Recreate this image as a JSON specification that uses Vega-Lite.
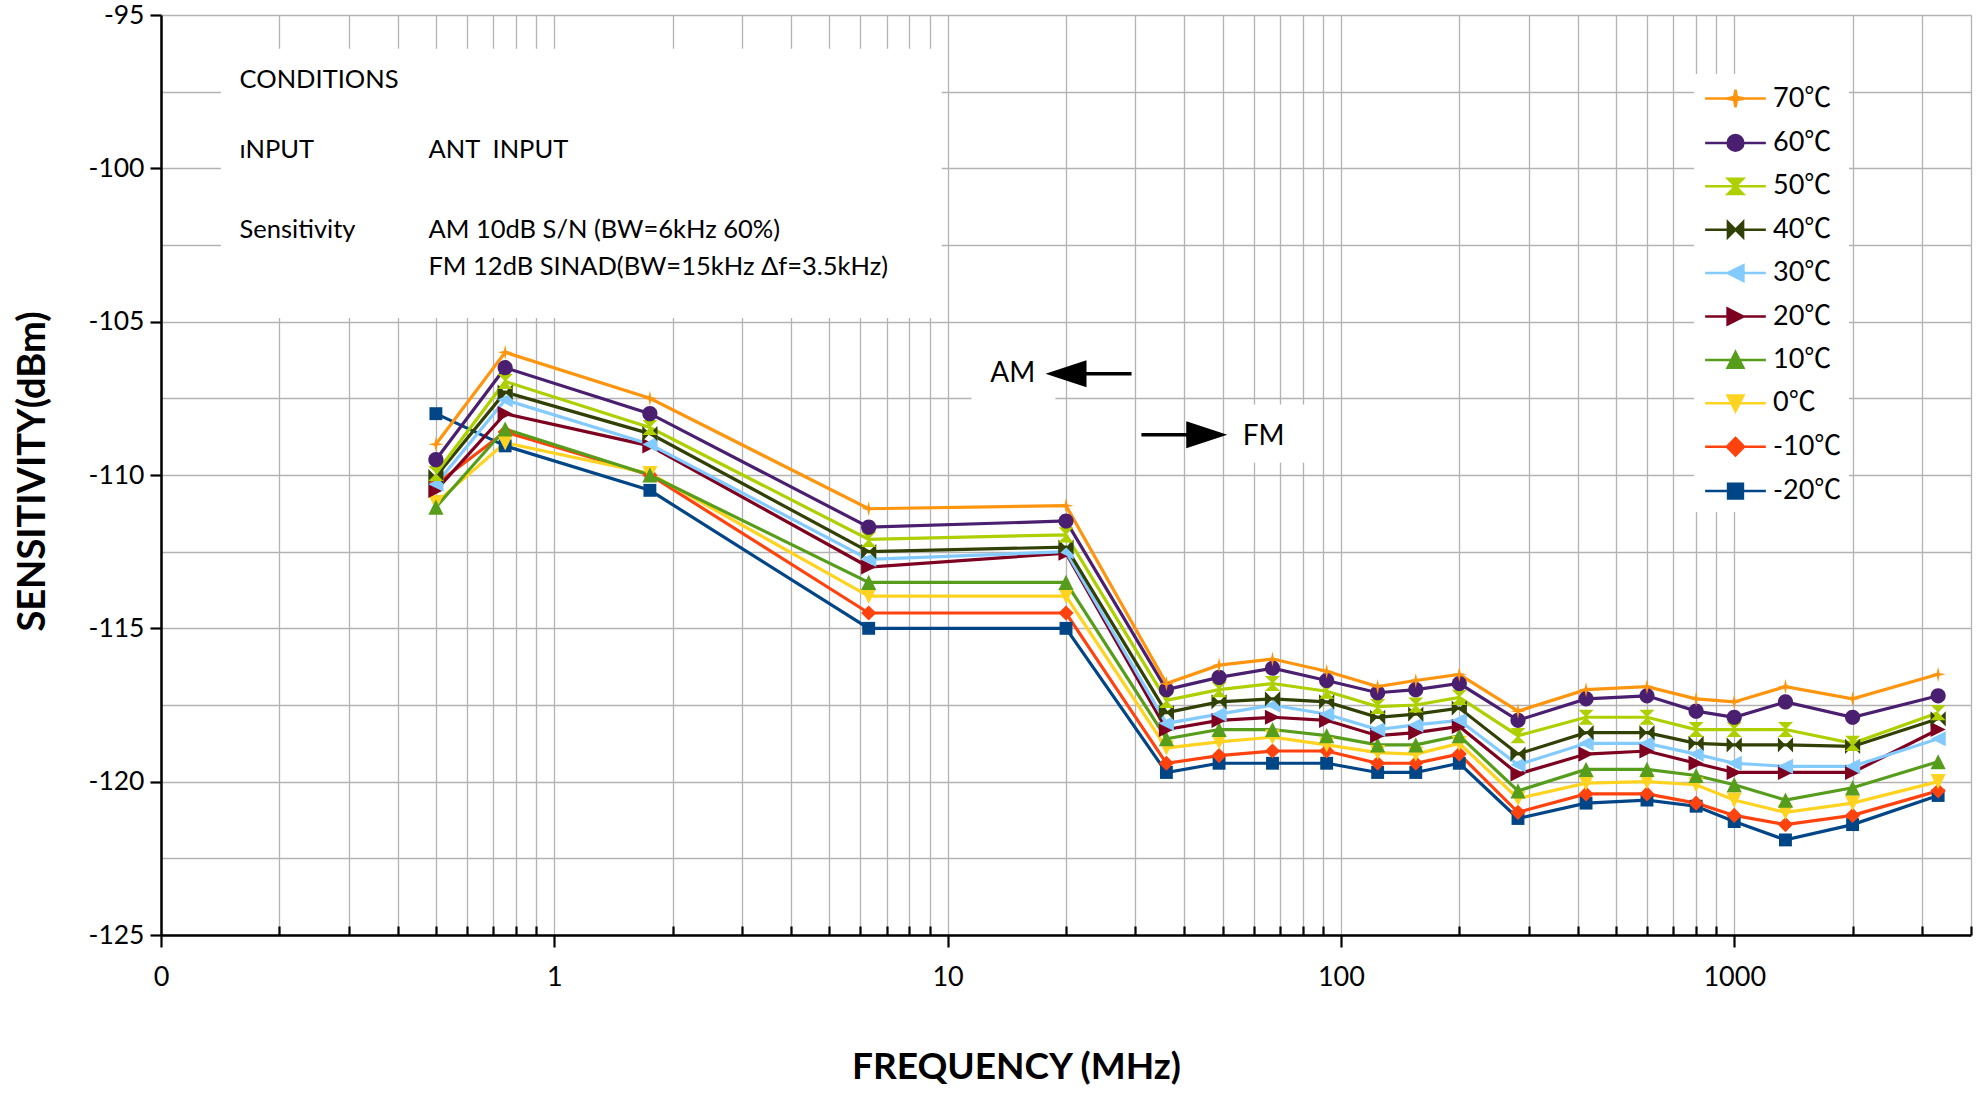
{
  "$schema": "https://vega.github.io/schema/vega-lite/v6.json",
  "width": 1810,
  "height": 920,
  "autosize": {"type": "none"},
  "padding": {"left": 161, "top": 15, "right": 13, "bottom": 158},
  "background": "white",
  "config": {
    "font": "Lato, Noto Sans CJK SC",
    "view": {"stroke": null},
    "legend": {
      "orient": "none", "legendX": 1533, "legendY": 59,
      "fillColor": "white", "padding": 7, "symbolOffset": 17,
      "symbolSize": 1000, "rowPadding": 12.4, "labelOffset": 20,
      "labelFontSize": 27, "labelColor": "black", "labelFont": "Lato, Noto Sans CJK SC"
    }
  },
  "datasets": {
    "sens": [
      {"f": 0.5, "-20℃": -108.0, "-10℃": -110.3, "0℃": -110.9, "10℃": -111.05, "20℃": -110.5, "30℃": -110.3, "40℃": -110.05, "50℃": -109.95, "60℃": -109.5, "70℃": -109.0},
      {"f": 0.75, "-20℃": -109.05, "-10℃": -108.6, "0℃": -108.95, "10℃": -108.5, "20℃": -108.0, "30℃": -107.55, "40℃": -107.3, "50℃": -106.95, "60℃": -106.5, "70℃": -106.0},
      {"f": 1.75, "-20℃": -110.5, "-10℃": -110.0, "0℃": -109.95, "10℃": -110.0, "20℃": -109.05, "30℃": -109.0, "40℃": -108.65, "50℃": -108.45, "60℃": -108.0, "70℃": -107.5},
      {"f": 6.3, "-20℃": -115.0, "-10℃": -114.5, "0℃": -113.95, "10℃": -113.5, "20℃": -113.0, "30℃": -112.75, "40℃": -112.5, "50℃": -112.1, "60℃": -111.7, "70℃": -111.1},
      {"f": 20, "-20℃": -115.0, "-10℃": -114.5, "0℃": -113.95, "10℃": -113.5, "20℃": -112.55, "30℃": -112.5, "40℃": -112.35, "50℃": -111.95, "60℃": -111.5, "70℃": -111.0},
      {"f": 36, "-20℃": -119.7, "-10℃": -119.4, "0℃": -118.9, "10℃": -118.6, "20℃": -118.3, "30℃": -118.1, "40℃": -117.75, "50℃": -117.35, "60℃": -117.0, "70℃": -116.8},
      {"f": 49, "-20℃": -119.4, "-10℃": -119.15, "0℃": -118.7, "10℃": -118.3, "20℃": -118.0, "30℃": -117.8, "40℃": -117.4, "50℃": -117.0, "60℃": -116.6, "70℃": -116.2},
      {"f": 67, "-20℃": -119.4, "-10℃": -119.0, "0℃": -118.55, "10℃": -118.3, "20℃": -117.9, "30℃": -117.5, "40℃": -117.3, "50℃": -116.8, "60℃": -116.3, "70℃": -116.0},
      {"f": 92, "-20℃": -119.4, "-10℃": -119.0, "0℃": -118.8, "10℃": -118.5, "20℃": -118.0, "30℃": -117.8, "40℃": -117.4, "50℃": -117.05, "60℃": -116.7, "70℃": -116.4},
      {"f": 124, "-20℃": -119.7, "-10℃": -119.4, "0℃": -119.05, "10℃": -118.8, "20℃": -118.5, "30℃": -118.3, "40℃": -117.9, "50℃": -117.55, "60℃": -117.1, "70℃": -116.9},
      {"f": 155, "-20℃": -119.7, "-10℃": -119.4, "0℃": -119.1, "10℃": -118.8, "20℃": -118.4, "30℃": -118.15, "40℃": -117.8, "50℃": -117.5, "60℃": -117.0, "70℃": -116.7},
      {"f": 200, "-20℃": -119.4, "-10℃": -119.1, "0℃": -118.75, "10℃": -118.5, "20℃": -118.2, "30℃": -118.0, "40℃": -117.6, "50℃": -117.25, "60℃": -116.8, "70℃": -116.5},
      {"f": 282, "-20℃": -121.2, "-10℃": -121.0, "0℃": -120.55, "10℃": -120.3, "20℃": -119.75, "30℃": -119.45, "40℃": -119.1, "50℃": -118.5, "60℃": -118.0, "70℃": -117.7},
      {"f": 420, "-20℃": -120.7, "-10℃": -120.4, "0℃": -120.05, "10℃": -119.6, "20℃": -119.1, "30℃": -118.75, "40℃": -118.4, "50℃": -117.9, "60℃": -117.3, "70℃": -117.0},
      {"f": 600, "-20℃": -120.6, "-10℃": -120.4, "0℃": -120.0, "10℃": -119.6, "20℃": -119.0, "30℃": -118.75, "40℃": -118.4, "50℃": -117.9, "60℃": -117.2, "70℃": -116.9},
      {"f": 800, "-20℃": -120.8, "-10℃": -120.7, "0℃": -120.1, "10℃": -119.8, "20℃": -119.4, "30℃": -119.1, "40℃": -118.75, "50℃": -118.3, "60℃": -117.7, "70℃": -117.3},
      {"f": 1000, "-20℃": -121.3, "-10℃": -121.1, "0℃": -120.6, "10℃": -120.1, "20℃": -119.7, "30℃": -119.4, "40℃": -118.8, "50℃": -118.3, "60℃": -117.9, "70℃": -117.4},
      {"f": 1350, "-20℃": -121.9, "-10℃": -121.4, "0℃": -121.0, "10℃": -120.6, "20℃": -119.7, "30℃": -119.5, "40℃": -118.8, "50℃": -118.3, "60℃": -117.4, "70℃": -116.9},
      {"f": 2000, "-20℃": -121.4, "-10℃": -121.1, "0℃": -120.7, "10℃": -120.2, "20℃": -119.7, "30℃": -119.5, "40℃": -118.85, "50℃": -118.75, "60℃": -117.9, "70℃": -117.3},
      {"f": 3300, "-20℃": -120.45, "-10℃": -120.3, "0℃": -120.0, "10℃": -119.35, "20℃": -118.3, "30℃": -118.6, "40℃": -117.95, "50℃": -117.75, "60℃": -117.2, "70℃": -116.5}
    ],
    "boxes": [
      {"x1": 0.142, "x2": 9.66, "y1": -96.1, "y2": -104.88},
      {"x1": 11.5, "x2": 18.8, "y1": -105.7, "y2": -107.9},
      {"x1": 53.7, "x2": 85.8, "y1": -107.7, "y2": -109.6}
    ],
    "notes": [
      {"f": 0.1584, "v": -97.365, "t": "CONDITIONS"},
      {"f": 0.1584, "v": -99.667, "t": "ıNPUT"},
      {"f": 0.1584, "v": -102.277, "t": "Sensitivity"},
      {"f": 0.4786, "v": -99.667, "t": "ANT\u00a0 INPUT"},
      {"f": 0.4786, "v": -102.277, "t": "AM 10dB S/N (BW=6kHz 60%)"},
      {"f": 0.4786, "v": -103.473, "t": "FM 12dB SINAD(BW=15kHz Δf=3.5kHz)"}
    ],
    "bands": [
      {"f": 14.65, "v": -106.7, "t": "AM"},
      {"f": 63.6, "v": -108.76, "t": "FM"}
    ],
    "arrows": [
      {"a": 29.35, "b": 20, "v": -106.7},
      {"a": 31.1, "b": 45.6, "v": -108.69}
    ],
    "headL": [{"f": 20, "v": -106.7}],
    "headR": [{"f": 45.6, "v": -108.69}]
  },
  "layer": [
    {
      "data": {"name": "boxes"},
      "mark": {"type": "rect", "fill": "white", "stroke": null},
      "encoding": {
        "x": {"field": "x1", "type": "quantitative", "scale": {"type": "log", "domain": [0.1, 4000], "nice": false},
          "axis": {
            "values": [0.1, 0.2, 0.3, 0.4, 0.5, 0.6, 0.7, 0.8, 0.9, 1, 2, 3, 4, 5, 6, 7, 8, 9, 10, 20, 30, 40, 50, 60, 70, 80, 90, 100, 200, 300, 400, 500, 600, 700, 800, 900, 1000, 2000, 3000, 4000],
            "labelExpr": "datum.value == 0.1 ? '0' : (indexof([1, 10, 100, 1000], datum.value) >= 0 ? toString(datum.value) : '')",
            "grid": true, "gridColor": "#b3b3b3", "gridWidth": 1.3,
            "domainColor": "black", "domainWidth": 2.5,
            "tickColor": "black", "tickWidth": 2.2,
            "tickSize": {"condition": {"test": "indexof([0.1, 1, 10, 100, 1000], datum.value) >= 0", "value": 12}, "value": -9},
            "labelFontSize": 27, "labelColor": "black", "labelPadding": 17, "labelFlush": false, "labelOverlap": false,
            "title": "FREQUENCY (MHz)", "titleFontSize": 37, "titleFontWeight": "bold", "titleColor": "black",
            "titleX": 855, "titleY": 143, "titleBaseline": "alphabetic", "titleAlign": "center", "titleAnchor": "start"
          }
        },
        "x2": {"field": "x2"},
        "y": {"field": "y1", "type": "quantitative", "scale": {"domain": [-125, -95], "nice": false, "zero": false},
          "axis": {
            "values": [-125, -122.5, -120, -117.5, -115, -112.5, -110, -107.5, -105, -102.5, -100, -97.5, -95],
            "labelExpr": "datum.value % 5 == 0 ? toString(datum.value) : ''",
            "grid": true, "gridColor": "#b3b3b3", "gridWidth": 1.3,
            "domainColor": "black", "domainWidth": 2.5,
            "tickColor": "black", "tickWidth": 2.2, "tickSize": 11,
            "tickOpacity": {"condition": {"test": "datum.value % 5 == 0", "value": 1}, "value": 0},
            "labelFontSize": 26.5, "labelColor": "black", "labelPadding": 6, "labelFlush": false, "labelOverlap": false,
            "title": "SENSITIVITY(dBm)", "titleFontSize": 38, "titleFontWeight": "bold", "titleColor": "black",
            "titleX": -117, "titleY": 456, "titleAngle": -90, "titleBaseline": "alphabetic", "titleAlign": "center", "titleAnchor": "start"
          }
        },
        "y2": {"field": "y2"}
      }
    },
    {
      "data": {"name": "sens"},
      "transform": [{"fold": ["-20℃", "-10℃", "0℃", "10℃", "20℃", "30℃", "40℃", "50℃", "60℃", "70℃"], "as": ["series", "dBm"]}],
      "mark": {"type": "line", "strokeWidth": 3.2},
      "encoding": {
        "x": {"field": "f", "type": "quantitative", "scale": {"type": "log", "domain": [0.1, 4000], "nice": false}},
        "y": {"field": "dBm", "type": "quantitative", "scale": {"domain": [-125, -95], "nice": false, "zero": false}},
        "color": {"field": "series", "type": "nominal",
          "scale": {"domain": ["70℃", "60℃", "50℃", "40℃", "30℃", "20℃", "10℃", "0℃", "-10℃", "-20℃"],
            "range": ["#ff950e", "#4b1f6f", "#aecf00", "#314004", "#83caff", "#7e0021", "#579d1c", "#ffd320", "#ff420e", "#004586"]},
          "legend": {"title": null,
            "encode": {"symbols": {"update": {
              "shape": {"signal": "['M-1.92,0H1.92M0,-0.56L0.09,-0.09L0.56,0L0.09,0.09L0,0.56L-0.09,0.09L-0.56,0L-0.09,-0.09Z','M-1.92,0H1.92M-0.5,0A0.5,0.5,0,1,0,0.5,0A0.5,0.5,0,1,0,-0.5,0Z','M-1.92,0H1.92M-0.48,-0.48L0.48,-0.48L-0.48,0.48L0.48,0.48Z','M-1.92,0H1.92M-0.48,-0.48L0.48,0.48L0.48,-0.48L-0.48,0.48Z','M-1.92,0H1.92M-0.5,0L0.5,-0.5L0.5,0.5Z','M-1.92,0H1.92M0.5,0L-0.5,-0.5L-0.5,0.5Z','M-1.92,0H1.92M0,-0.5L0.5,0.5L-0.5,0.5Z','M-1.92,0H1.92M0,0.5L0.5,-0.5L-0.5,-0.5Z','M-1.92,0H1.92M0,-0.55L0.55,0L0,0.55L-0.55,0Z','M-1.92,0H1.92M-0.47,-0.47H0.47V0.47H-0.47Z'][indexof(['70℃','60℃','50℃','40℃','30℃','20℃','10℃','0℃','-10℃','-20℃'], datum.value)]"},
              "stroke": {"scale": "color", "field": "value"},
              "strokeWidth": {"value": 2.5},
              "opacity": {"value": 1}
            }}}}}
      }
    },
    {
      "data": {"name": "sens"},
      "transform": [{"fold": ["-20℃", "-10℃", "0℃", "10℃", "20℃", "30℃", "40℃", "50℃", "60℃", "70℃"], "as": ["series", "dBm"]}],
      "mark": {"type": "point", "filled": true, "opacity": 1, "size": 230, "strokeWidth": 0},
      "encoding": {
        "x": {"field": "f", "type": "quantitative", "scale": {"type": "log", "domain": [0.1, 4000], "nice": false}},
        "y": {"field": "dBm", "type": "quantitative", "scale": {"domain": [-125, -95], "nice": false, "zero": false}},
        "color": {"field": "series", "type": "nominal",
          "scale": {"domain": ["70℃", "60℃", "50℃", "40℃", "30℃", "20℃", "10℃", "0℃", "-10℃", "-20℃"],
            "range": ["#ff950e", "#4b1f6f", "#aecf00", "#314004", "#83caff", "#7e0021", "#579d1c", "#ffd320", "#ff420e", "#004586"]},
          "legend": {"title": null}},
        "shape": {"field": "series", "type": "nominal",
          "scale": {"domain": ["-20℃", "-10℃", "0℃", "10℃", "20℃", "30℃", "40℃", "50℃", "60℃", "70℃"],
            "range": ["M-0.85,-0.85H0.85V0.85H-0.85Z", "M0,-1L1,0L0,1L-1,0Z", "M0,1L1,-1L-1,-1Z", "M0,-1L1,1L-1,1Z", "M1,0L-1,-1L-1,1Z", "M-1,0L1,-1L1,1Z", "M-1,-1L1,1L1,-1L-1,1Z", "M-1,-1L1,-1L-1,1L1,1Z", "M-1,0A1,1,0,1,0,1,0A1,1,0,1,0,-1,0Z", "M0,-1L0.18,-0.18L1,0L0.18,0.18L0,1L-0.18,0.18L-1,0L-0.18,-0.18Z"]},
          "legend": null}
      }
    },
    {
      "data": {"name": "notes"},
      "mark": {"type": "text", "align": "left", "baseline": "alphabetic", "fontSize": 25.5, "color": "black"},
      "encoding": {
        "x": {"field": "f", "type": "quantitative", "scale": {"type": "log", "domain": [0.1, 4000], "nice": false}},
        "y": {"field": "v", "type": "quantitative", "scale": {"domain": [-125, -95], "nice": false, "zero": false}},
        "text": {"field": "t"}
      }
    },
    {
      "data": {"name": "bands"},
      "mark": {"type": "text", "align": "center", "baseline": "middle", "fontSize": 28, "color": "black"},
      "encoding": {
        "x": {"field": "f", "type": "quantitative", "scale": {"type": "log", "domain": [0.1, 4000], "nice": false}},
        "y": {"field": "v", "type": "quantitative", "scale": {"domain": [-125, -95], "nice": false, "zero": false}},
        "text": {"field": "t"}
      }
    },
    {
      "data": {"name": "arrows"},
      "mark": {"type": "rule", "strokeWidth": 3.5, "color": "black"},
      "encoding": {
        "x": {"field": "a", "type": "quantitative", "scale": {"type": "log", "domain": [0.1, 4000], "nice": false}},
        "x2": {"field": "b"},
        "y": {"field": "v", "type": "quantitative", "scale": {"domain": [-125, -95], "nice": false, "zero": false}}
      }
    },
    {
      "data": {"name": "headL"},
      "mark": {"type": "point", "filled": true, "opacity": 1, "color": "black", "size": 1681, "shape": "M-1,0L1,-0.66L1,0.66Z"},
      "encoding": {
        "x": {"field": "f", "type": "quantitative", "scale": {"type": "log", "domain": [0.1, 4000], "nice": false}},
        "y": {"field": "v", "type": "quantitative", "scale": {"domain": [-125, -95], "nice": false, "zero": false}}
      }
    },
    {
      "data": {"name": "headR"},
      "mark": {"type": "point", "filled": true, "opacity": 1, "color": "black", "size": 1681, "shape": "M1,0L-1,-0.66L-1,0.66Z"},
      "encoding": {
        "x": {"field": "f", "type": "quantitative", "scale": {"type": "log", "domain": [0.1, 4000], "nice": false}},
        "y": {"field": "v", "type": "quantitative", "scale": {"domain": [-125, -95], "nice": false, "zero": false}}
      }
    }
  ]
}
